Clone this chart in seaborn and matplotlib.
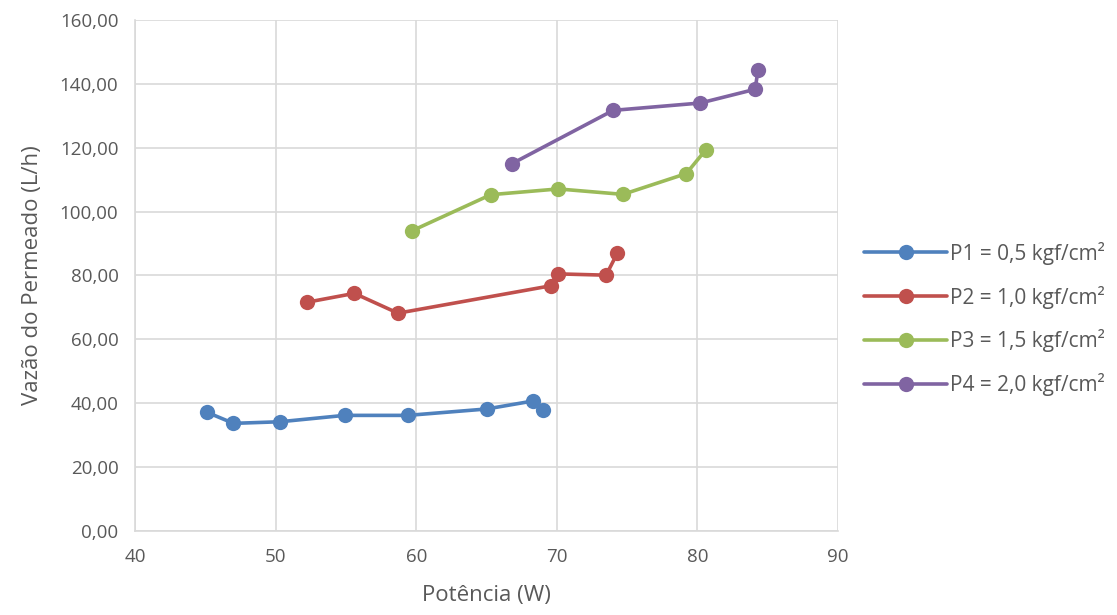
import matplotlib
matplotlib.use("Agg")
import matplotlib.pyplot as plt
import seaborn as sns
import pandas as pd
from matplotlib.ticker import FuncFormatter, MultipleLocator

# Data
p1_x = [45.1, 47.0, 50.3, 54.9, 59.4, 65.0, 68.3, 69.0]
p1_y = [37.2, 33.7, 34.2, 36.2, 36.2, 38.2, 40.7, 37.9]
p2_x = [52.2, 55.6, 58.7, 69.6, 70.1, 73.5, 74.3]
p2_y = [71.6, 74.4, 68.2, 76.8, 80.5, 80.1, 87.0]
p3_x = [59.7, 65.3, 70.1, 74.7, 79.2, 80.6]
p3_y = [94.0, 105.3, 107.1, 105.4, 111.9, 119.4]
p4_x = [66.8, 74.0, 80.2, 84.1, 84.3]
p4_y = [115.0, 131.7, 134.0, 138.3, 144.2]
series_names = ["P1 = 0,5 kgf/cm²", "P2 = 1,0 kgf/cm²",
                "P3 = 1,5 kgf/cm²", "P4 = 2,0 kgf/cm²"]
colors = ["#4F81BD", "#C0504D", "#9BBB59", "#8064A2"]

rows = []
for name, xs, ys in zip(series_names, [p1_x, p2_x, p3_x, p4_x], [p1_y, p2_y, p3_y, p4_y]):
    for i, (x, y) in enumerate(zip(xs, ys)):
        rows.append({"serie": name, "x": x, "y": y, "order": i})
df = pd.DataFrame(rows)

sns.set_style("white")
plt.rcParams["font.family"] = ["Open Sans", "DejaVu Sans"]

fig = plt.figure(figsize=(11.17, 6.15), dpi=100)
ax = fig.add_axes([0.1209, 0.1366, 0.6294, 0.8309])

sns.lineplot(data=df, x="x", y="y", hue="serie", hue_order=series_names,
             palette=colors, sort=False, estimator=None, marker="o",
             markersize=11, markeredgewidth=0, linewidth=2.6, ax=ax, zorder=3)

ax.set_xlim(40, 90)
ax.set_ylim(0, 160)
ax.xaxis.set_major_locator(MultipleLocator(10))
ax.yaxis.set_major_locator(MultipleLocator(20))
ax.yaxis.set_major_formatter(FuncFormatter(lambda v, p: f"{v:.2f}".replace(".", ",")))
ax.grid(True, color="#D9D9D9", linewidth=1.2, zorder=0)
ax.set_axisbelow(True)
for s in ["top", "right"]:
    ax.spines[s].set_visible(False)
for s in ["left", "bottom"]:
    ax.spines[s].set_color("#D9D9D9")
    ax.spines[s].set_linewidth(1.2)
ax.tick_params(axis="both", length=0, labelsize=13.5, labelcolor="#595959")
ax.tick_params(axis="x", pad=12)
ax.tick_params(axis="y", pad=12)
ax.set_xlabel("Potência (W)", fontsize=16, color="#595959", labelpad=14)
ax.set_ylabel("Vazão do Permeado (L/h)", fontsize=16, color="#595959", labelpad=12)

leg = ax.legend(loc="center left", bbox_to_anchor=(1.01, 0.415), frameon=False,
                fontsize=15, handlelength=4.0, labelspacing=1.0, handletextpad=0.15)
for t in leg.get_texts():
    t.set_color("#595959")
leg.set_title(None)

fig.savefig("out.png", dpi=100)
